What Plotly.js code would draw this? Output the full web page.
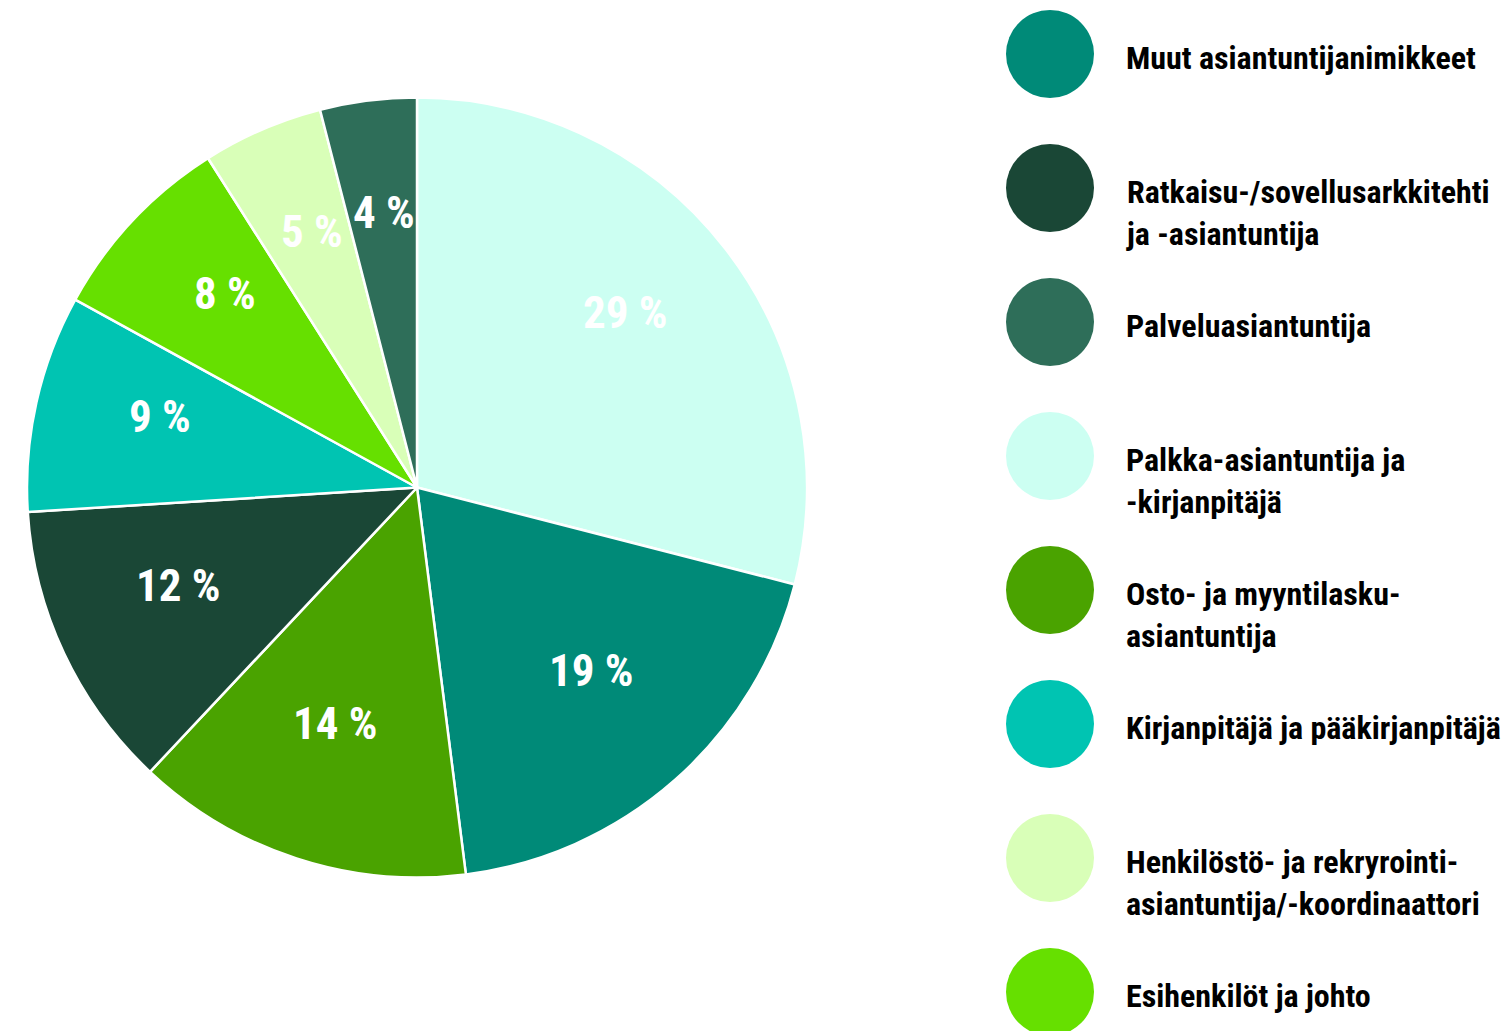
<!DOCTYPE html>
<html>
<head>
<meta charset="utf-8">
<script src="https://cdn.plot.ly/plotly-3.0.1.min.js"></script>
<style>html,body{margin:0;padding:0;background:#fff;}#chart{width:1507px;height:1031px;}</style>
</head>
<body>
<div id="chart"></div>
<script>
// Data (pie order, clockwise from 12 o'clock)
const pieLabels = [
  "Palkka-asiantuntija ja -kirjanpitäjä",
  "Muut asiantuntijanimikkeet",
  "Osto- ja myyntilasku-asiantuntija",
  "Ratkaisu-/sovellusarkkitehti ja -asiantuntija",
  "Kirjanpitäjä ja pääkirjanpitäjä",
  "Esihenkilöt ja johto",
  "Henkilöstö- ja rekryrointi-asiantuntija/-koordinaattori",
  "Palveluasiantuntija"
];
const pieValues = [29, 19, 14, 12, 9, 8, 5, 4];
const pieColors = ["#ccfff2", "#008a78", "#4aa300", "#1a4736", "#00c4b2", "#66e000", "#d9ffb8", "#2e6e59"];

// Legend order and display text
const legendKeys = [
  "Muut asiantuntijanimikkeet",
  "Ratkaisu-/sovellusarkkitehti ja -asiantuntija",
  "Palveluasiantuntija",
  "Palkka-asiantuntija ja -kirjanpitäjä",
  "Osto- ja myyntilasku-asiantuntija",
  "Kirjanpitäjä ja pääkirjanpitäjä",
  "Henkilöstö- ja rekryrointi-asiantuntija/-koordinaattori",
  "Esihenkilöt ja johto"
];
const legendText = [
  "Muut asiantuntijanimikkeet",
  "Ratkaisu-/sovellusarkkitehti<br>ja -asiantuntija",
  "Palveluasiantuntija",
  "Palkka-asiantuntija ja<br>-kirjanpitäjä",
  "Osto- ja myyntilasku-<br>asiantuntija",
  "Kirjanpitäjä ja pääkirjanpitäjä",
  "Henkilöstö- ja rekryrointi-<br>asiantuntija/-koordinaattori",
  "Esihenkilöt ja johto"
];

const W = 1507, H = 1031;
const FONT = "'Roboto Condensed', 'Liberation Sans Narrow', 'Arial Narrow', 'DejaVu Sans Condensed', sans-serif";

// pie geometry (pixels)
const cx = 417, cy = 487.5, R = 390;
const domX = [(cx - R) / W, (cx + R) / W];
const domY = [1 - (cy + R) / H, 1 - (cy - R) / H];

const trace = {
  type: 'pie',
  labels: pieLabels,
  values: pieValues,
  sort: false,
  direction: 'clockwise',
  rotation: 0,
  marker: {colors: pieColors, line: {color: '#ffffff', width: 2.5}},
  textinfo: 'none',
  hoverinfo: 'label+percent',
  domain: {x: domX, y: domY},
  showlegend: false
};

const annotations = [];
const shapes = [];

// slice labels computed from cumulative values
const total = pieValues.reduce((a, b) => a + b, 0);
let cum = 0;
const labelFrac = 0.675;
pieValues.forEach((v, i) => {
  const mid = (cum + v / 2) / total * 2 * Math.PI;
  cum += v;
  const px = cx + R * labelFrac * Math.sin(mid);
  const py = cy - R * labelFrac * Math.cos(mid);
  annotations.push({
    xref: 'paper', yref: 'paper',
    x: px / W, y: 1 - py / H,
    xanchor: 'center', yanchor: 'middle', yshift: 14,
    text: '<b>' + Math.round(v / total * 100) + ' %</b>',
    showarrow: false,
    font: {family: FONT, size: 45, color: '#ffffff'}
  });
});

// custom legend with circle markers
const legX = 1050, legY0 = 54, legStep = 134, legR = 44, textX = 1125;
legendKeys.forEach((k, i) => {
  const idx = pieLabels.indexOf(k);
  const yc = legY0 + legStep * i;
  shapes.push({
    type: 'circle', xref: 'paper', yref: 'paper',
    xsizemode: 'pixel', ysizemode: 'pixel',
    xanchor: legX / W, yanchor: 1 - yc / H,
    x0: -legR, x1: legR, y0: -legR, y1: legR,
    fillcolor: pieColors[idx], line: {width: 0}
  });
  annotations.push({
    xref: 'paper', yref: 'paper',
    x: textX / W, y: 1 - (yc - 16) / H,
    xanchor: 'left', yanchor: 'top', align: 'left',
    text: '<b>' + legendText[i] + '</b>',
    showarrow: false, borderpad: 0,
    font: {family: FONT, size: 32, color: '#000000'}
  });
});

const layout = {
  width: W, height: H,
  margin: {l: 0, r: 0, t: 0, b: 0},
  paper_bgcolor: '#ffffff',
  showlegend: false,
  annotations: annotations,
  shapes: shapes
};

Plotly.newPlot('chart', [trace], layout, {displayModeBar: false, staticPlot: true});
</script>
</body>
</html>
